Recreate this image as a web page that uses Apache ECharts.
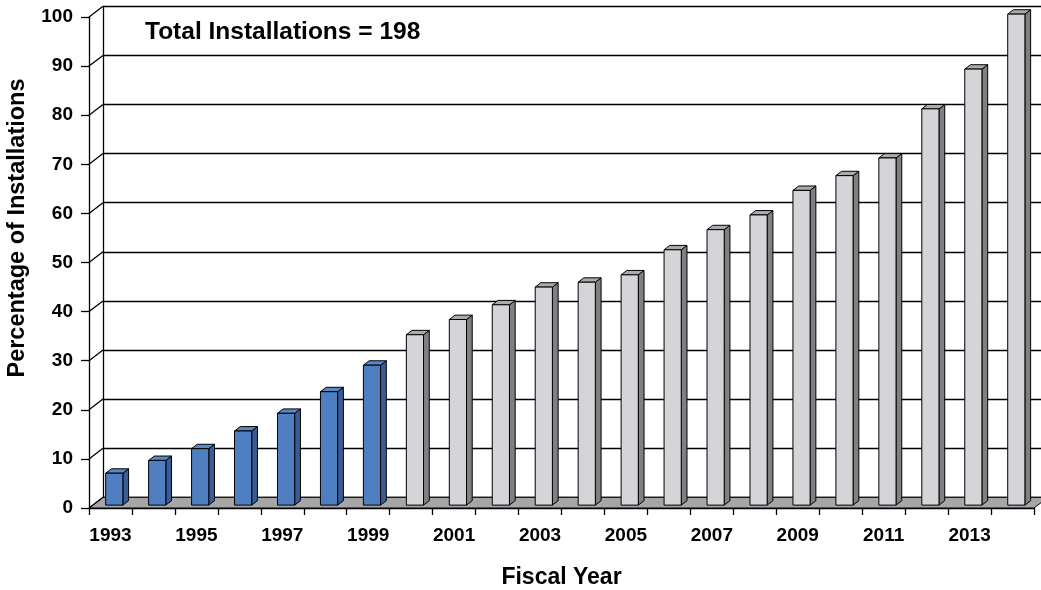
<!DOCTYPE html>
<html><head><meta charset="utf-8">
<script src="https://cdn.jsdelivr.net/npm/echarts@6/dist/echarts.min.js"></script>
<style>html,body{margin:0;padding:0;background:#fff}#c{width:1041px;height:590px}</style>
</head><body><div id="c"></div>
<script>
// ---- data ----
const years = ['1993','1994','1995','1996','1997','1998','1999','2000','2001','2002','2003','2004','2005','2006','2007','2008','2009','2010','2011','2012','2013','2014'];
const values = [6.5, 9.1, 11.5, 15.1, 18.7, 23.1, 28.5, 34.7, 37.8, 40.8, 44.4, 45.4, 46.9, 52.0, 56.1, 59.1, 64.1, 67.1, 70.7, 80.7, 88.8, 100];
const blueThroughYear = '1999';
const yTicks = [0, 10, 20, 30, 40, 50, 60, 70, 80, 90, 100];
const titleText = 'Total Installations = 198';
const yTitle = 'Percentage of Installations';
const xTitle = 'Fiscal Year';

// ---- style / layout ----
const FONT = "'Liberation Sans', Arial, sans-serif";
const DX = 14, DY = -10.7;          // 3D depth offset of the back wall
const BAR_F = 0.27, BAR_D = 0.41, BAR_W = 0.40;
const blueIdx = years.indexOf(blueThroughYear);

const chart = echarts.init(document.getElementById('c'), null, {renderer: 'canvas'});

function floorItem(params, api) {
  const cs = params.coordSys;
  const y0 = api.coord([0, 0])[1];
  const x0 = cs.x, x1 = cs.x + cs.width;
  return {
    type: 'polygon',
    shape: {points: [[x0, y0], [x1, y0], [x1 + DX, y0 + DY], [x0 + DX, y0 + DY]]},
    style: {fill: '#a6a6a6', stroke: '#000', lineWidth: 1}
  };
}
function diagItem(params, api) {
  const cs = params.coordSys;
  const y = api.coord([0, api.value(0)])[1];
  return {
    type: 'line',
    shape: {x1: cs.x, y1: y, x2: cs.x + DX, y2: y + DY},
    style: {stroke: '#000', lineWidth: 1.3}
  };
}
function barItem(params, api) {
  const i = api.value(0), v = api.value(1);
  const base = api.coord([i, 0]);
  const top = api.coord([i, v]);
  const bw = api.size([1, 0])[0];
  const w = bw * BAR_W;
  const cx = base[0] + BAR_F * DX;
  const yb = base[1] + BAR_F * DY, yt = top[1] + BAR_F * DY;
  const xl = cx - w / 2, xr = cx + w / 2;
  const ddx = BAR_D * DX, ddy = BAR_D * DY;
  const blue = i <= blueIdx;
  const cF = blue ? '#4f7fc0' : '#d4d4d9';
  const cS = blue ? '#395c97' : '#808080';
  const cT = blue ? '#5a88c6' : '#ababae';
  const st = {stroke: '#000', lineWidth: 1, lineJoin: 'round'};
  return {
    type: 'group',
    children: [
      {type: 'polygon', shape: {points: [[xr, yb], [xr, yt], [xr + ddx, yt + ddy], [xr + ddx, yb + ddy]]}, style: Object.assign({fill: cS}, st)},
      {type: 'polygon', shape: {points: [[xl, yt], [xr, yt], [xr + ddx, yt + ddy], [xl + ddx, yt + ddy]]}, style: Object.assign({fill: cT}, st)},
      {type: 'rect', shape: {x: xl, y: yt, width: w, height: yb - yt}, style: Object.assign({fill: cF}, st)}
    ]
  };
}

const labelStyle = {fontFamily: FONT, fontWeight: 'bold', fontSize: 19, color: '#000'};

chart.setOption({
  animation: false,
  backgroundColor: '#fff',
  title: {
    text: titleText, left: 140, top: 15,
    textStyle: {fontFamily: FONT, fontWeight: 'bold', fontSize: 24.5, color: '#000'}
  },
  graphic: [
    {
      type: 'text', x: 18, y: 228, rotation: Math.PI / 2,
      style: {text: yTitle, fontFamily: FONT, fontWeight: 'bold', fontSize: 23.5, fill: '#000',
              textAlign: 'center', textVerticalAlign: 'middle'}
    }
  ],
  grid: [
    {left: 89, top: 17, width: 945, height: 491, containLabel: false, outerBoundsMode: 'none'},
    {left: 103, top: 6.3, width: 945, height: 491, containLabel: false, outerBoundsMode: 'none'}
  ],
  xAxis: [
    {
      type: 'category', gridIndex: 0, data: years,
      axisLine: {show: true, lineStyle: {color: '#000', width: 1.3}},
      axisTick: {show: true, interval: 0, length: 7, lineStyle: {color: '#000', width: 1.3}},
      axisLabel: Object.assign({interval: 1, margin: 18}, labelStyle),
      splitLine: {show: false},
      name: xTitle, nameLocation: 'middle', nameGap: 58,
      nameTextStyle: {fontFamily: FONT, fontWeight: 'bold', fontSize: 23, color: '#000'}
    },
    {
      type: 'category', gridIndex: 1, data: years, show: false
    }
  ],
  yAxis: [
    {
      type: 'value', gridIndex: 0, min: 0, max: 100, interval: 10,
      axisLine: {show: true, lineStyle: {color: '#000', width: 1.3}},
      axisTick: {show: true, length: 8, lineStyle: {color: '#000', width: 1.3}},
      axisLabel: Object.assign({margin: 16}, labelStyle),
      splitLine: {show: false}
    },
    {
      type: 'value', gridIndex: 1, min: 0, max: 100, interval: 10,
      axisLine: {show: true, lineStyle: {color: '#000', width: 1.3}},
      axisTick: {show: false}, axisLabel: {show: false},
      splitLine: {show: true, lineStyle: {color: '#000', width: 1.3}}
    }
  ],
  series: [
    {type: 'custom', xAxisIndex: 0, yAxisIndex: 0, renderItem: floorItem, data: [[0]], silent: true, clip: false},
    {type: 'custom', xAxisIndex: 0, yAxisIndex: 0, renderItem: diagItem, data: yTicks.map(t => [t]), silent: true, clip: false},
    {type: 'custom', xAxisIndex: 0, yAxisIndex: 0, renderItem: barItem, data: values.map((v, i) => [i, v]), clip: false}
  ]
});
</script>
</body></html>
